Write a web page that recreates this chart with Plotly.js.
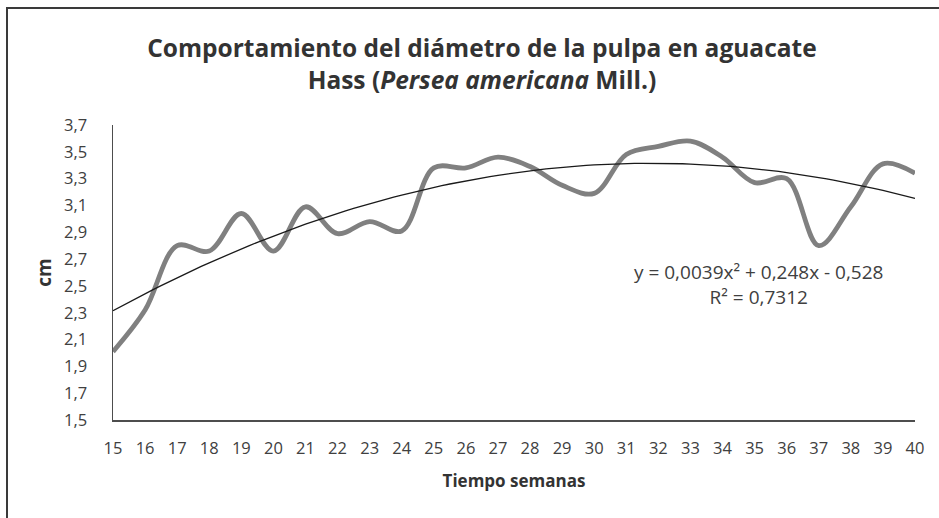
<!DOCTYPE html>
<html>
<head>
<meta charset="utf-8">
<script src="https://cdn.plot.ly/plotly-3.0.1.min.js"></script>
<style>
html,body{margin:0;padding:0;background:#fff;overflow:hidden;}
#wrap{position:relative;width:939px;height:518px;overflow:hidden;}
#chart{width:939px;height:518px;}
#frame{position:absolute;left:6px;top:7px;width:1200px;height:1200px;border-left:2px solid #3a3a3a;border-top:2px solid #3a3a3a;pointer-events:none;}
</style>
</head>
<body>
<div id="wrap"><div id="chart"></div><div id="frame"></div></div>
<script>
// Weeks (x) and pulp diameter (cm)
var semanas = [15,16,17,18,19,20,21,22,23,24,25,26,27,28,29,30,31,32,33,34,35,36,37,38,39,40];
var diametro = [2.01,2.32,2.80,2.76,3.04,2.76,3.09,2.89,2.98,2.91,3.38,3.38,3.46,3.39,3.25,3.19,3.48,3.54,3.58,3.46,3.27,3.30,2.80,3.09,3.41,3.34];
// Polynomial trendline coefficients as displayed (a*x^2 + b*x + c; curve is concave)
var trendCoef = [-0.0039, 0.248, -0.528];
var yTicks = [1.5,1.7,1.9,2.1,2.3,2.5,2.7,2.9,3.1,3.3,3.5,3.7];
var xTicks = semanas;

var trendX = [], trendY = [];
for (var i = 0; i <= 100; i++) {
  var x = 15 + 25 * i / 100;
  trendX.push(x);
  trendY.push(trendCoef[0]*x*x + trendCoef[1]*x + trendCoef[2]);
}

var font = "'Open Sans', 'DejaVu Sans', sans-serif";

var traces = [
  {x: semanas, y: diametro, type: 'scatter', mode: 'lines', name: 'Diámetro',
   line: {color: '#808080', width: 4.8, shape: 'spline', smoothing: 1}},
  {x: trendX, y: trendY, type: 'scatter', mode: 'lines', name: 'Tendencia',
   line: {color: '#1a1a1a', width: 1.3}}
];

var layout = {
  width: 939, height: 518,
  margin: {l: 113, r: 24, t: 125, b: 98},
  paper_bgcolor: '#fff', plot_bgcolor: '#fff',
  separators: ',.',
  showlegend: false,
  font: {family: font, color: '#404040'},
  title: {
    text: 'Comportamiento del diámetro de la pulpa en aguacate<br>Hass (<i>Persea americana</i> Mill.)',
    font: {family: font, size: 24.5, color: '#333333', weight: 'bold'},
    x: 0.46, xref: 'paper', xanchor: 'center',
    y: 0.89, yref: 'container', yanchor: 'top'
  },
  xaxis: {
    range: [15, 40], tickvals: xTicks, ticktext: xTicks.map(String),
    showgrid: false, zeroline: false, showline: true, linecolor: '#4d4d4d', linewidth: 1.5,
    ticks: '', ticklabelstandoff: 13,
    tickfont: {family: font, size: 16.5, color: '#404040'},
    title: {text: 'Tiempo semanas', font: {family: font, size: 17, color: '#333333', weight: 'bold'}, standoff: 17}
  },
  yaxis: {
    range: [1.5, 3.7], tickvals: yTicks, tickformat: '.1f',
    showgrid: false, zeroline: false, showline: true, linecolor: '#4d4d4d', linewidth: 1.5,
    ticks: '', ticklabelstandoff: 21,
    tickfont: {family: font, size: 16.5, color: '#404040'},
    title: {text: 'cm', font: {family: font, size: 19, color: '#333333', weight: 'bold'}, standoff: 7}
  },
  annotations: [
    {xref: 'paper', yref: 'paper', x: 0.805, y: 0.458, xanchor: 'center', yanchor: 'middle', showarrow: false,
     text: 'y = 0,0039x² + 0,248x - 0,528<br>R² = 0,7312', align: 'center',
     font: {family: font, size: 19, color: '#404040'}}
  ]
};

Plotly.newPlot('chart', traces, layout, {displayModeBar: false, staticPlot: true});
</script>
</body>
</html>
